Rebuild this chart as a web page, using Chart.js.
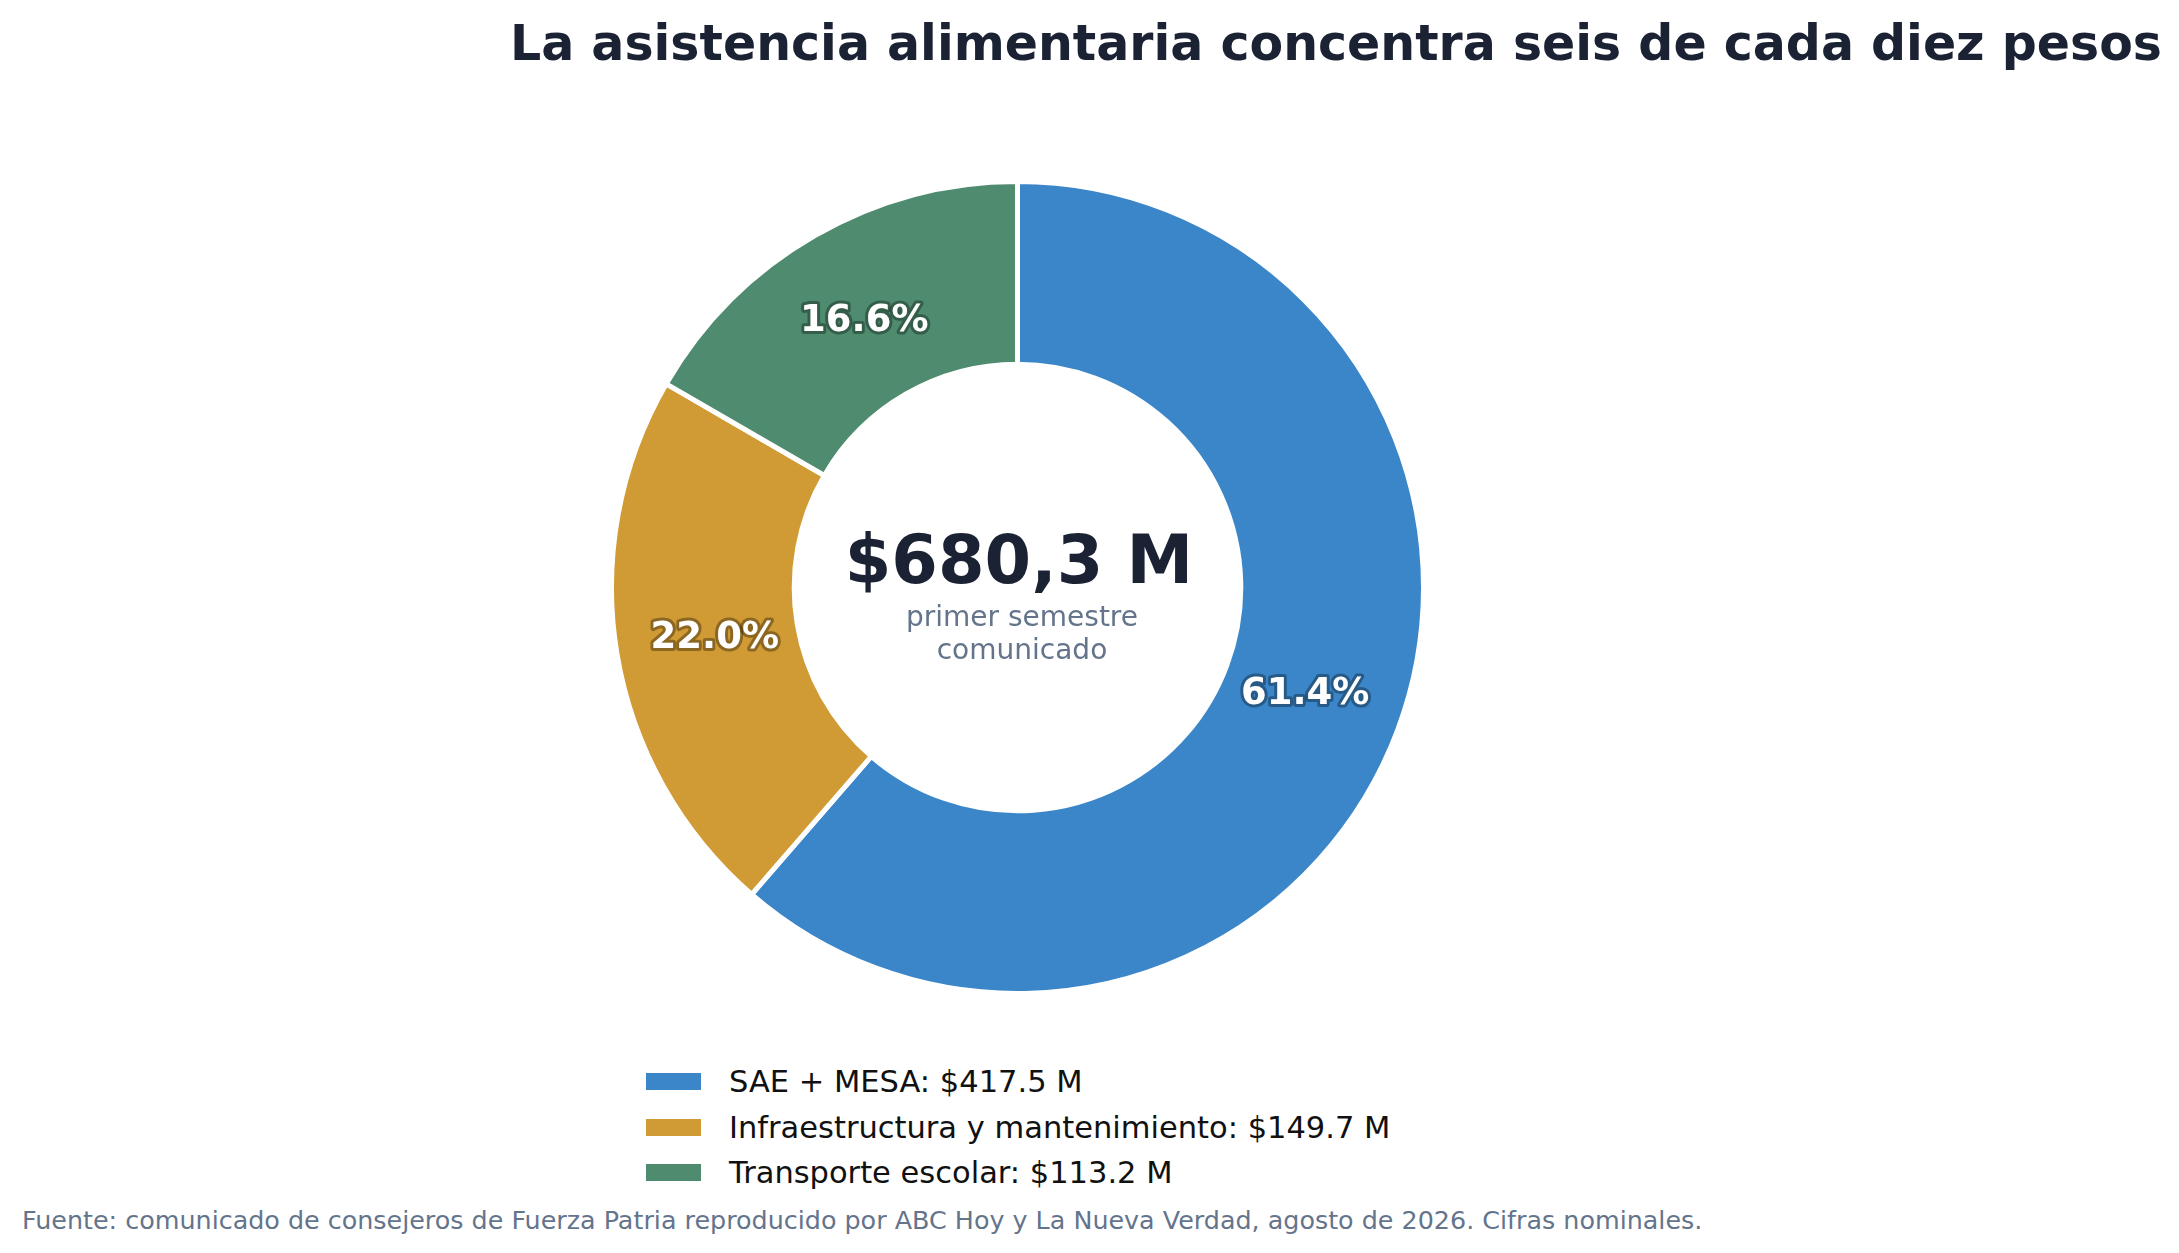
<!DOCTYPE html>
<html>
<head>
<meta charset="utf-8">
<script src="https://cdn.jsdelivr.net/npm/chart.js@4"></script>
<style>
  html, body { margin: 0; padding: 0; background: #ffffff; }
  body { width: 2179px; height: 1253px; position: relative; overflow: hidden; font-family: "DejaVu Sans", sans-serif; }
  #title { position: absolute; left: 1336px; top: 14px; transform: translateX(-50%); white-space: nowrap;
           font-weight: bold; font-size: 49px; color: #1b2233; line-height: 60px; }
  #chartBox { position: absolute; left: 609px; top: 179px; width: 817px; height: 817px; }
  #center { position: absolute; left: 1022px; top: 514px; transform: translateX(-50%); text-align: center; white-space: nowrap; }
  #centerBig { font-weight: bold; font-size: 67px; color: #1b2233; line-height: 86px; position: relative; left: -3px; top: 3px; }
  #centerSub { font-size: 28px; color: #64748b; line-height: 33px; margin-top: 0px; }
  #legend { position: absolute; left: 646px; top: 1059px; }
  .item { display: flex; align-items: center; height: 45.5px; font-size: 30.5px; color: #111; white-space: nowrap; }
  .sw { width: 55px; height: 17px; margin-right: 28px; }
  #footer { position: absolute; left: 22px; top: 1205px; font-size: 25.4px; color: #64748b; white-space: nowrap; }
</style>
</head>
<body>
<div id="title"></div>
<div id="chartBox"><canvas id="c"></canvas></div>
<div id="center"><div id="centerBig"></div><div id="centerSub"></div></div>
<div id="legend"></div>
<div id="footer"></div>
<script>
const titleText = "La asistencia alimentaria concentra seis de cada diez pesos";
const categories = ["SAE + MESA", "Infraestructura y mantenimiento", "Transporte escolar"];
const values = [417.5, 149.7, 113.2];
const percentLabels = ["61.4%", "22.0%", "16.6%"];
const colors = ["#3b86c8", "#d09a34", "#4e8b6f"];
const centerTotal = "$680,3 M";
const centerSubLines = ["primer semestre", "comunicado"];
const footerText = "Fuente: comunicado de consejeros de Fuerza Patria reproducido por ABC Hoy y La Nueva Verdad, agosto de 2026. Cifras nominales.";

document.getElementById('title').textContent = titleText;
document.getElementById('centerBig').textContent = centerTotal;
document.getElementById('centerSub').innerHTML = centerSubLines.map(s => '<div>' + s + '</div>').join('');
document.getElementById('footer').textContent = footerText;
const leg = document.getElementById('legend');
categories.forEach((c, i) => {
  const d = document.createElement('div');
  d.className = 'item';
  const sw = document.createElement('span');
  sw.className = 'sw';
  sw.style.background = colors[i];
  const t = document.createElement('span');
  t.textContent = c + ': $' + values[i].toFixed(1) + ' M';
  d.appendChild(sw); d.appendChild(t);
  leg.appendChild(d);
});

const labelPlugin = {
  id: 'sliceLabels',
  afterDatasetsDraw(chart) {
    const ctx = chart.ctx;
    const meta = chart.getDatasetMeta(0);
    ctx.save();
    ctx.font = 'bold 37px "DejaVu Sans"';
    ctx.textAlign = 'center';
    ctx.textBaseline = 'middle';
    ctx.lineJoin = 'round';
    meta.data.forEach((arc, i) => {
      const pr = arc.getProps(['x', 'y', 'startAngle', 'endAngle', 'outerRadius']);
      const mid = (pr.startAngle + pr.endAngle) / 2;
      const r = pr.outerRadius * 0.756;
      const px = pr.x + Math.cos(mid) * r;
      const py = pr.y + Math.sin(mid) * r;
      ctx.lineWidth = 6;
      ctx.strokeStyle = 'rgba(0,0,0,0.33)';
      ctx.strokeText(percentLabels[i], px, py);
      ctx.fillStyle = '#ffffff';
      ctx.fillText(percentLabels[i], px, py);
    });
    ctx.restore();
  }
};

new Chart(document.getElementById('c'), {
  type: 'doughnut',
  data: {
    labels: categories,
    datasets: [{
      data: values,
      backgroundColor: colors,
      borderColor: '#ffffff',
      borderWidth: 5,
      hoverOffset: 0
    }]
  },
  options: {
    responsive: true,
    maintainAspectRatio: false,
    animation: false,
    cutout: '55%',
    layout: { padding: 0 },
    plugins: {
      legend: { display: false },
      title: { display: false },
      tooltip: { enabled: false }
    }
  },
  plugins: [labelPlugin]
});
</script>
</body>
</html>
